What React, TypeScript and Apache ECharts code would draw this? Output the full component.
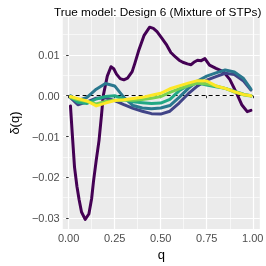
import React, { useEffect, useRef } from "react";
import * as echarts from "echarts";

const seriesNames = ["1", "2", "3", "4", "5", "6"];
const seriesColors = ["#440154", "#414487", "#2A788E", "#22A884", "#7AD151", "#FDE725"];

const qPurple = [0.01, 0.02, 0.032, 0.045, 0.057, 0.07, 0.09, 0.11, 0.125, 0.135, 0.15, 0.165, 0.178, 0.188, 0.21, 0.23, 0.245, 0.26, 0.28, 0.3, 0.32, 0.345, 0.36, 0.38, 0.41, 0.44, 0.46, 0.48, 0.505, 0.53, 0.555, 0.58, 0.6, 0.62, 0.645, 0.665, 0.68, 0.7, 0.72, 0.74, 0.765, 0.8, 0.84, 0.875, 0.91, 0.94, 0.97, 0.99];
const deltaPurple = [-0.0025, -0.0095, -0.0175, -0.0222, -0.0255, -0.0285, -0.0303, -0.029, -0.0252, -0.021, -0.0158, -0.011, -0.005, 0.0, 0.0048, 0.0071, 0.0066, 0.0053, 0.0042, 0.0039, 0.0043, 0.0059, 0.008, 0.011, 0.0148, 0.0168, 0.0165, 0.0157, 0.0142, 0.0126, 0.0106, 0.0095, 0.0087, 0.0082, 0.0078, 0.0076, 0.0082, 0.0087, 0.0086, 0.0091, 0.0075, 0.0067, 0.0059, 0.004, 0.0008, -0.0022, -0.0039, -0.0036];

const qGrid = [0.01, 0.05, 0.1, 0.15, 0.2, 0.25, 0.3, 0.35, 0.4, 0.45, 0.5, 0.55, 0.6, 0.65, 0.7, 0.75, 0.8, 0.85, 0.9, 0.95, 0.99];
const deltaIndigo = [-0.0005, -0.0022, -0.0015, -0.0006, -0.0005, -0.0012, -0.0022, -0.0031, -0.0038, -0.0044, -0.0045, -0.0038, -0.0018, 0.0005, 0.0024, 0.0038, 0.0047, 0.0055, 0.0052, 0.0036, 0.0014];
const deltaTealBlue = [0.0, -0.0012, -0.0004, 0.0016, 0.003, 0.0024, -0.0004, -0.0024, -0.003, -0.0032, -0.003, -0.0024, -0.0004, 0.0018, 0.0036, 0.0048, 0.0056, 0.0063, 0.0058, 0.0042, 0.0016];
const deltaTealGreen = [-0.0003, -0.0016, -0.0019, -0.0008, -0.0002, 0.0, -0.0008, -0.0015, -0.0017, -0.0019, -0.0018, -0.0009, 0.0012, 0.0026, 0.0031, 0.0026, 0.0022, 0.0018, 0.0011, 0.0004, 0.0];
const deltaLightGreen = [-0.0004, -0.001, -0.0014, -0.002, -0.0014, -0.0011, -0.0011, -0.0011, -0.0009, -0.0006, -0.0002, 0.0008, 0.0017, 0.0024, 0.0031, 0.0029, 0.0024, 0.0018, 0.0009, 0.0002, -0.0001];
const deltaYellow = [-0.0002, -0.0007, -0.0013, -0.0025, -0.0018, -0.0012, -0.001, -0.0007, -0.0004, 0.0001, 0.0006, 0.0017, 0.0024, 0.0031, 0.0037, 0.0036, 0.0024, 0.0018, 0.001, 0.0003, 0.0];

const xTicks = [0, 0.25, 0.5, 0.75, 1];
const xMinor = [0.125, 0.375, 0.625, 0.875];
const yTicks = [-0.03, -0.02, -0.01, 0, 0.01];
const yMinor = [-0.025, -0.015, -0.005, 0.005, 0.015];

const X_MIN = -0.032;
const X_MAX = 1.038;
const Y_MIN = -0.0327;
const Y_MAX = 0.0193;

const FONT = "'Liberation Sans', Arial, Helvetica, sans-serif";

function zip(xs: number[], ys: number[]) {
  return xs.map((x, i) => [x, ys[i]]);
}

export default function App() {
  const ref = useRef<HTMLDivElement>(null);
  useEffect(() => {
    if (!ref.current) return;
    const chart = echarts.init(ref.current, undefined, { renderer: "svg" });

    const gridLines = (xs: number[], ys: number[]) => [
      ...xs.map((x) => ({ coords: [[x, Y_MIN], [x, Y_MAX]] })),
      ...ys.map((y) => ({ coords: [[X_MIN, y], [X_MAX, y]] })),
    ];

    const lineData = [
      zip(qPurple, deltaPurple),
      zip(qGrid, deltaIndigo),
      zip(qGrid, deltaTealBlue),
      zip(qGrid, deltaTealGreen),
      zip(qGrid, deltaLightGreen),
      zip(qGrid, deltaYellow),
    ];

    const fmtY = (v: number) => (v < 0 ? "\u2212" : "") + Math.abs(v).toFixed(2);

    chart.setOption({
      animation: false,
      title: {
        text: "True model: Design 6 (Mixture of STPs)",
        left: 49,
        top: 1,
        textStyle: { fontSize: 11.8, fontWeight: "normal", color: "#000", fontFamily: FONT },
      },
      grid: {
        left: 49,
        right: 3,
        top: 17,
        bottom: 28,
        show: true,
        backgroundColor: "#EBEBEB",
        borderWidth: 0,
      },
      xAxis: {
        type: "value",
        min: X_MIN,
        max: X_MAX,
        name: "q",
        nameLocation: "middle",
        nameGap: 9,
        nameTextStyle: { fontSize: 13, color: "#000", fontFamily: FONT, verticalAlign: "top" },
        axisLine: { show: false },
        axisTick: { show: true, length: 2.5, lineStyle: { color: "#333", width: 1 }, customValues: xTicks },
        axisLabel: {
          show: true,
          customValues: xTicks,
          margin: 3,
          fontSize: 11,
          color: "#4D4D4D",
          fontFamily: FONT,
          formatter: (v: number) => v.toFixed(2),
        },
        splitLine: { show: false },
      },
      yAxis: {
        type: "value",
        min: Y_MIN,
        max: Y_MAX,
        name: "\u03b4(q)",
        nameLocation: "middle",
        nameGap: 31,
        nameRotate: 90,
        nameTextStyle: { fontSize: 13, color: "#000", fontFamily: FONT },
        axisLine: { show: false },
        axisTick: { show: true, length: 2.5, lineStyle: { color: "#333", width: 1 }, customValues: yTicks },
        axisLabel: {
          show: true,
          customValues: yTicks,
          margin: 3,
          fontSize: 11,
          color: "#4D4D4D",
          fontFamily: FONT,
          formatter: fmtY,
        },
        splitLine: { show: false },
      },
      series: [
        {
          type: "lines",
          coordinateSystem: "cartesian2d",
          silent: true,
          z: 0,
          lineStyle: { color: "#FFFFFF", width: 0.6, opacity: 1 },
          data: gridLines(xMinor, yMinor),
        },
        {
          type: "lines",
          coordinateSystem: "cartesian2d",
          silent: true,
          z: 0,
          lineStyle: { color: "#FFFFFF", width: 1.2, opacity: 1 },
          data: gridLines(xTicks, yTicks),
        },
        {
          type: "lines",
          coordinateSystem: "cartesian2d",
          silent: true,
          z: 1,
          lineStyle: { color: "#000000", width: 1.1, type: [4, 3], opacity: 1 },
          data: [{ coords: [[0, 0], [1, 0]] }],
        },
        ...lineData.map((d, i) => ({
          type: "line",
          name: seriesNames[i],
          data: d,
          showSymbol: false,
          symbol: "none",
          z: 2 + i,
          lineStyle: { color: seriesColors[i], width: 3, join: "round", cap: "round" },
          itemStyle: { color: seriesColors[i] },
          silent: true,
        })),
      ],
    });
    return () => chart.dispose();
  }, []);
  return <div ref={ref} style={{ position: "fixed", left: 0, top: 0, width: 266, height: 266 }} />;
}
